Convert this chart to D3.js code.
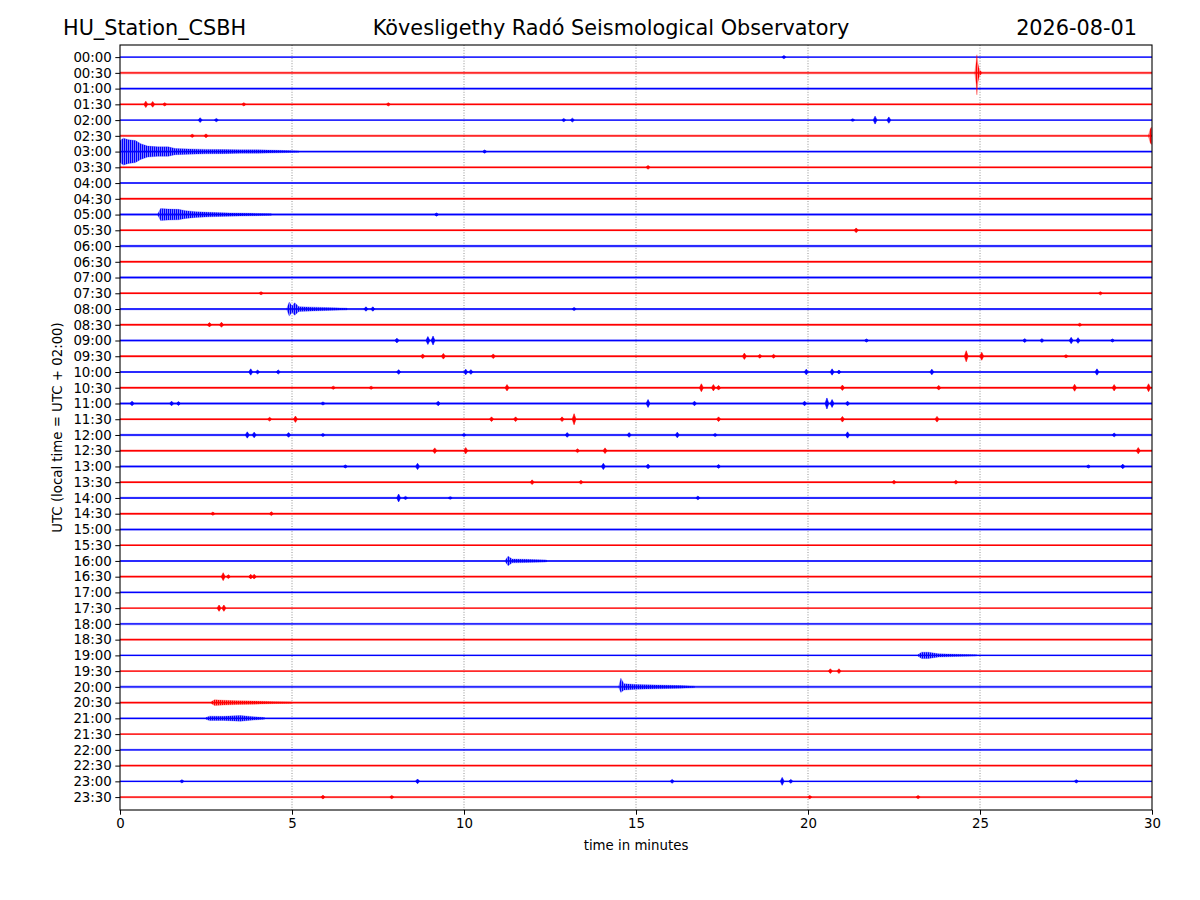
<!DOCTYPE html>
<html>
<head>
<meta charset="utf-8">
<script src="https://cdn.jsdelivr.net/npm/d3@7"></script>
<style>
  body { margin: 0; background: #fff; }
  text { font-family: "DejaVu Sans", sans-serif; }
</style>
</head>
<body>
<div id="chart"></div>
<script>
// row labels, one per half-hour trace
var rowLabels = ["00:00","00:30","01:00","01:30","02:00","02:30","03:00","03:30",
  "04:00","04:30","05:00","05:30","06:00","06:30","07:00","07:30",
  "08:00","08:30","09:00","09:30","10:00","10:30","11:00","11:30",
  "12:00","12:30","13:00","13:30","14:00","14:30","15:00","15:30",
  "16:00","16:30","17:00","17:30","18:00","18:30","19:00","19:30",
  "20:00","20:30","21:00","21:30","22:00","22:30","23:00","23:30"];

var minuteTicks = [0, 5, 10, 15, 20, 25, 30];

// background noise level of each trace (in trace spacing units)
var traceNoise = [0.06,0.08,0.09,0.08,0.05,0.08,0.08,0.08,0.05,0.08,0.08,0.06,
  0.09,0.08,0.08,0.06,0.07,0.08,0.07,0.08,0.07,0.08,0.08,0.07,
  0.08,0.08,0.07,0.07,0.07,0.08,0.06,0.05,0.06,0.09,0.07,0.05,
  0.08,0.09,0.06,0.06,0.08,0.09,0.07,0.05,0.07,0.08,0.06,0.07];

// longer events: trace index + envelope [minute, up, down]
var burstTrace = [1, 5, 6, 10, 16, 32, 38, 40, 41, 42];
var burstEnv = [
  [[24.85,0.05],[24.89,0.7],[24.91,1.15,1.4],[24.94,0.6],[24.98,0.2],[25.05,0.05]],
  [[29.9,0.05],[29.95,0.45],[29.98,0.55],[30,0.5]],
  [[0,0.7],[0.1,0.85],[0.25,0.75],[0.45,0.7],[0.6,0.5],[0.8,0.35],[1.1,0.3],[1.4,0.3],
   [1.6,0.2],[2.0,0.17],[2.5,0.14],[3.0,0.13],[3.5,0.11],[4.0,0.11],[4.6,0.08],[5.2,0.04]],
  [[1.1,0.05],[1.18,0.38],[1.4,0.35],[1.7,0.33],[1.9,0.25],[2.2,0.18],[2.6,0.14],
   [3.2,0.1],[3.8,0.08],[4.4,0.05]],
  [[4.85,0.05],[4.92,0.45],[5.0,0.2],[5.08,0.4],[5.2,0.15],[5.6,0.12],[6.2,0.08],[6.6,0.05]],
  [[11.2,0.05],[11.28,0.3],[11.4,0.12],[11.8,0.1],[12.4,0.06]],
  [[23.2,0.05],[23.3,0.2],[23.5,0.2],[23.8,0.1],[24.3,0.07],[24.9,0.04]],
  [[14.5,0.05],[14.56,0.55,0.35],[14.65,0.2],[15.0,0.15],[15.6,0.12],[16.3,0.08],[16.7,0.04]],
  [[2.65,0.05],[2.75,0.18],[3.0,0.15],[3.4,0.12],[3.9,0.1],[4.5,0.06],[5.0,0.04]],
  [[2.5,0.05],[2.6,0.14],[3.0,0.13],[3.5,0.18],[3.8,0.12],[4.2,0.05]]
];

// short blips: [trace, minute, amplitude]
var spikes = [
  [0,19.3,0.1],
  [3,0.75,0.2],[3,0.95,0.18],[3,1.3,0.1],[3,3.6,0.1],[3,7.8,0.1],
  [4,2.33,0.15],[4,2.8,0.1],[4,12.9,0.1],[4,13.15,0.12],[4,21.3,0.08],[4,21.95,0.25],[4,22.35,0.2],
  [5,2.1,0.1],[5,2.5,0.12],
  [6,10.6,0.1],
  [7,15.35,0.12],
  [10,9.2,0.1],
  [11,21.4,0.15],
  [15,4.1,0.1],[15,28.5,0.1],
  [16,7.15,0.14],[16,7.35,0.14],[16,13.2,0.1],
  [17,2.6,0.14],[17,2.95,0.16],[17,27.9,0.1],
  [18,8.05,0.15],[18,8.95,0.25],[18,9.1,0.28],[18,21.7,0.1],[18,26.3,0.12],[18,26.8,0.12],
  [18,27.65,0.2],[18,27.85,0.18],[18,28.85,0.1],
  [19,8.8,0.15],[19,9.4,0.18],[19,10.85,0.15],[19,18.15,0.2],[19,18.6,0.12],[19,19.0,0.12],
  [19,24.6,0.35],[19,25.05,0.25],[19,27.5,0.1],
  [20,3.8,0.2],[20,4.0,0.12],[20,4.6,0.13],[20,8.1,0.15],[20,10.05,0.18],[20,10.2,0.15],
  [20,19.95,0.18],[20,20.7,0.2],[20,20.9,0.12],[20,23.6,0.18],[20,28.4,0.2],
  [21,6.2,0.1],[21,7.3,0.1],[21,11.25,0.2],[21,16.9,0.25],[21,17.25,0.2],[21,17.4,0.15],
  [21,21.0,0.17],[21,23.8,0.15],[21,27.75,0.22],[21,28.9,0.2],[21,29.9,0.25],
  [22,0.35,0.15],[22,1.5,0.15],[22,1.7,0.12],[22,5.9,0.1],[22,9.25,0.15],[22,15.35,0.25],
  [22,16.7,0.15],[22,19.9,0.15],[22,20.55,0.35],[22,20.7,0.25],[22,21.15,0.15],
  [23,4.35,0.12],[23,5.1,0.2],[23,10.8,0.15],[23,11.5,0.15],[23,12.85,0.15],[23,13.2,0.35],
  [23,17.4,0.15],[23,21.0,0.18],[23,23.75,0.18],
  [24,3.7,0.2],[24,3.9,0.18],[24,4.9,0.15],[24,5.9,0.1],[24,10.0,0.1],[24,13.0,0.15],
  [24,14.8,0.15],[24,16.2,0.18],[24,17.3,0.1],[24,21.15,0.2],[24,28.9,0.12],
  [25,9.15,0.18],[25,10.05,0.2],[25,13.3,0.12],[25,14.1,0.18],[25,29.6,0.2],
  [26,6.55,0.1],[26,8.65,0.2],[26,14.05,0.2],[26,15.35,0.15],[26,17.4,0.12],[26,28.15,0.1],[26,29.15,0.15],
  [27,11.98,0.15],[27,13.4,0.12],[27,22.5,0.12],[27,24.3,0.12],
  [28,8.1,0.25],[28,8.3,0.1],[28,9.6,0.08],[28,16.8,0.12],
  [29,2.7,0.1],[29,4.4,0.12],
  [33,3.0,0.25],[33,3.15,0.12],[33,3.8,0.15],[33,3.9,0.15],
  [35,2.88,0.2],[35,3.02,0.2],
  [39,20.65,0.15],[39,20.9,0.15],
  [46,1.8,0.1],[46,8.65,0.15],[46,16.05,0.12],[46,19.25,0.25],[46,19.5,0.12],[46,27.8,0.1],
  [47,5.9,0.12],[47,7.9,0.1],[47,20.05,0.1],[47,23.2,0.1]
];

var W = 1200, H = 900;
var plot = {left: 120, right: 1152, top: 45, bottom: 810};

var x = d3.scaleLinear().domain([0, 30]).range([plot.left, plot.right]);
var y = d3.scaleLinear().domain([-0.77, 47.82]).range([plot.top, plot.bottom]);

var colors = {blue: "#0000ff", red: "#ff0000"};
function colorOf(i) { return i % 2 === 0 ? colors.blue : colors.red; }
function fillOf(i) { return i % 2 === 0 ? "url(#hatch-blue)" : "url(#hatch-red)"; }

var svg = d3.select("#chart").append("svg")
    .attr("width", W)
    .attr("height", H);

var defs = svg.append("defs");
defs.append("clipPath").attr("id", "clip")
  .append("rect")
    .attr("x", plot.left).attr("y", plot.top)
    .attr("width", plot.right - plot.left)
    .attr("height", plot.bottom - plot.top);

// vertical stripe fill, gives bursts a wiggly look
Object.keys(colors).forEach(function(k) {
  var p = defs.append("pattern")
    .attr("id", "hatch-" + k)
    .attr("patternUnits", "userSpaceOnUse")
    .attr("width", 2).attr("height", 3);
  p.append("rect").attr("width", 2).attr("height", 3)
    .style("fill", colors[k]).style("opacity", 0.45);
  p.append("rect").attr("width", 1.1).attr("height", 3)
    .style("fill", colors[k]);
});

// vertical dotted grid
svg.append("g").selectAll("line")
  .data(minuteTicks.slice(1, -1))
  .enter().append("line")
    .attr("x1", function(d) { return x(d); })
    .attr("x2", function(d) { return x(d); })
    .attr("y1", plot.top).attr("y2", plot.bottom)
    .style("stroke", "#777")
    .style("stroke-width", 0.8)
    .style("stroke-dasharray", "1,1.6");

var traces = svg.append("g").attr("clip-path", "url(#clip)");
var idx = d3.range(rowLabels.length);

// noise band around each trace
var band = d3.area()
  .x(function(d) { return x(d[0]); })
  .y0(function(d) { return y(d[1] + d[2]); })
  .y1(function(d) { return y(d[1] - d[2]); });

traces.selectAll("path.noise")
  .data(idx)
  .enter().append("path")
    .attr("class", "noise")
    .attr("d", function(i) { return band([[0, i, traceNoise[i]], [30, i, traceNoise[i]]]); })
    .style("fill", function(i) { return colorOf(i); })
    .style("opacity", 0.35);

// trace base lines
traces.selectAll("line.trace")
  .data(idx)
  .enter().append("line")
    .attr("class", "trace")
    .attr("x1", x(0)).attr("x2", x(30))
    .attr("y1", function(i) { return y(i); })
    .attr("y2", function(i) { return y(i); })
    .style("stroke", function(i) { return colorOf(i); })
    .style("stroke-width", 1.4);

// event envelopes
function envArea(tr) {
  return d3.area()
    .x(function(d) { return x(d[0]); })
    .y0(function(d) { return y(tr + (d.length > 2 ? d[2] : d[1])); })
    .y1(function(d) { return y(tr - d[1]); });
}

traces.selectAll("path.burst")
  .data(burstTrace)
  .enter().append("path")
    .attr("class", "burst")
    .attr("d", function(tr, k) { return envArea(tr)(burstEnv[k]); })
    .style("fill", function(tr) { return fillOf(tr); })
    .style("stroke", function(tr) { return colorOf(tr); })
    .style("stroke-opacity", 0.5)
    .style("stroke-width", 0.5);

traces.selectAll("path.spike")
  .data(spikes)
  .enter().append("path")
    .attr("class", "spike")
    .attr("d", function(s) {
      return envArea(s[0])([[s[1] - 0.05, 0.03], [s[1], s[2]], [s[1] + 0.05, 0.03]]);
    })
    .style("fill", function(s) { return colorOf(s[0]); })
    .style("stroke", function(s) { return colorOf(s[0]); })
    .style("stroke-width", 0.6);

// axes
var yAxis = svg.append("g")
  .attr("transform", "translate(" + plot.left + ",0)")
  .call(d3.axisLeft(y).tickValues(idx).tickFormat(function(i) { return rowLabels[i]; })
    .tickSize(4.7).tickPadding(3.5));
yAxis.select(".domain").remove();
yAxis.selectAll("text").style("font-size", "13.33px").style("font-family", "DejaVu Sans").attr("fill", "#000");
yAxis.selectAll("line").style("stroke", "#000").style("stroke-width", 1);

var xAxis = svg.append("g")
  .attr("transform", "translate(0," + plot.bottom + ")")
  .call(d3.axisBottom(x).tickValues(minuteTicks).tickFormat(d3.format("d"))
    .tickSize(4.7).tickPadding(3.5));
xAxis.select(".domain").remove();
xAxis.selectAll("text").style("font-size", "13.33px").style("font-family", "DejaVu Sans").attr("fill", "#000");
xAxis.selectAll("line").style("stroke", "#000").style("stroke-width", 1);

// frame
svg.append("rect")
  .attr("x", plot.left).attr("y", plot.top)
  .attr("width", plot.right - plot.left)
  .attr("height", plot.bottom - plot.top)
  .style("fill", "none")
  .style("stroke", "#000")
  .style("stroke-width", 1.1);

// labels
svg.append("text")
  .attr("x", (plot.left + plot.right) / 2)
  .attr("y", 850)
  .attr("text-anchor", "middle")
  .style("font-size", "13.33px")
  .text("time in minutes");

svg.append("text")
  .attr("transform", "translate(62," + ((plot.top + plot.bottom) / 2) + ")rotate(-90)")
  .attr("text-anchor", "middle")
  .style("font-size", "13.33px")
  .text("UTC (local time = UTC + 02:00)");

// titles
svg.append("text")
  .attr("x", 63).attr("y", 35)
  .style("font-size", "20.8px")
  .text("HU_Station_CSBH");

svg.append("text")
  .attr("x", 611).attr("y", 35)
  .attr("text-anchor", "middle")
  .style("font-size", "20.8px")
  .text("Kövesligethy Radó Seismological Observatory");

svg.append("text")
  .attr("x", 1137).attr("y", 35)
  .attr("text-anchor", "end")
  .style("font-size", "20.8px")
  .text("2026-08-01");
</script>
</body>
</html>
